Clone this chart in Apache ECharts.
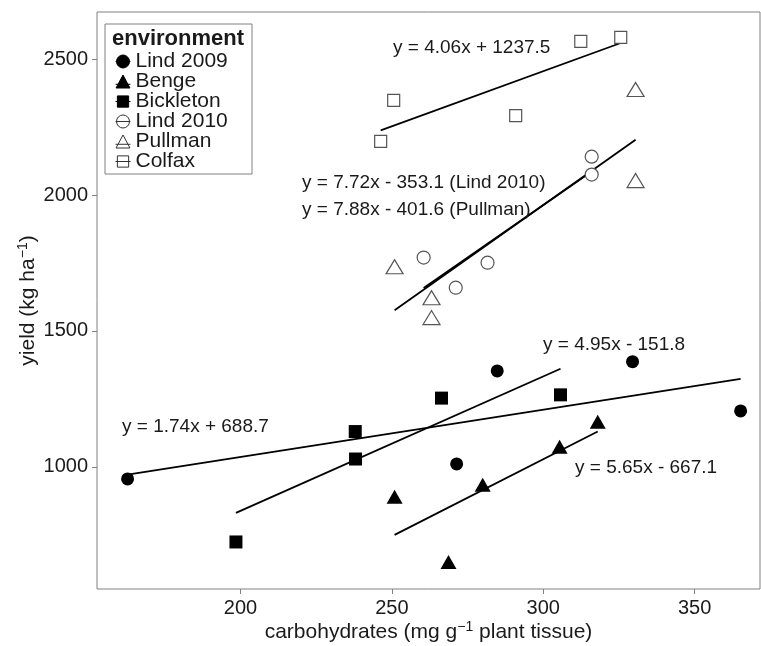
<!DOCTYPE html>
<html>
<head>
<meta charset="utf-8">
<script src="https://cdn.jsdelivr.net/npm/echarts@6/dist/echarts.min.js"></script>
<style>
  html, body { margin: 0; padding: 0; background: #fff; }
  #chart { width: 761px; height: 646px; }
</style>
</head>
<body>
<div id="chart"></div>
<script>
// --- data ---
var xTicks = [200, 250, 300, 350];
var yTicks = [1000, 1500, 2000, 2500];

var envNames = ['Lind 2009', 'Benge', 'Bickleton', 'Lind 2010', 'Pullman', 'Colfax'];

var lind2009X = [162.7, 271.4, 284.8, 329.5, 365.2];
var lind2009Y = [956, 1011, 1353, 1387, 1206];
var bengeX = [250.9, 268.7, 280.0, 305.4, 318.0];
var bengeY = [890, 650, 934, 1074, 1166];
var bickletonX = [198.5, 237.9, 238.0, 266.4, 305.7];
var bickletonY = [724, 1130, 1029, 1253, 1265];
var lind2010X = [316.0, 316.0, 260.5, 281.6, 271.1];
var lind2010Y = [2141, 2075, 1770, 1751, 1659];
var pullmanX = [330.5, 330.5, 250.9, 263.1, 263.1];
var pullmanY = [2388, 2053, 1736, 1622, 1549];
var colfaxX = [312.4, 325.6, 250.6, 290.9, 246.3];
var colfaxY = [2565, 2580, 2348, 2292, 2197];

// fitted lines, start and end as drawn
var lind2009Fit = [[162.7, 972], [365.2, 1324]];
var bickletonFit = [[198.5, 831], [305.7, 1361]];
var bengeFit = [[250.9, 750], [318.0, 1130]];
var colfaxFit = [[246.3, 2238], [325.6, 2559]];
var lind2010Fit = [[260.5, 1658], [316.0, 2086]];
var pullmanFit = [[250.9, 1576], [330.5, 2203]];

var equations = [
  { text: 'y = 4.06x + 1237.5', x: 393, y: 48 },
  { text: 'y = 7.72x - 353.1 (Lind 2010)', x: 302, y: 183 },
  { text: 'y = 7.88x - 401.6 (Pullman)', x: 302, y: 210 },
  { text: 'y = 1.74x + 688.7', x: 122, y: 427 },
  { text: 'y = 4.95x - 151.8', x: 543, y: 345 },
  { text: 'y = 5.65x - 667.1', x: 575, y: 468 }
];

function pairs(xs, ys) {
  return xs.map(function(x, i) { return [x, ys[i]]; });
}

var ink = '#1a1a1a';
var frame = '#808080';
var hollow = '#555555';
var font = 'Liberation Sans, Arial, Helvetica, sans-serif';

var filled = { color: '#000', opacity: 1 };
var open = { color: '#fff', borderColor: hollow, borderWidth: 1.2, opacity: 1 };

function scatter(name, data, symbol, size, style) {
  return {
    name: name,
    type: 'scatter',
    data: data,
    symbol: symbol,
    symbolSize: size,
    itemStyle: style,
    z: 3
  };
}

function fit(data) {
  return {
    type: 'line',
    data: data,
    showSymbol: false,
    symbol: 'none',
    lineStyle: { color: '#000', width: 1.8 },
    silent: true,
    z: 2
  };
}

// legend keys: symbol with the fit line through it
var keyCircle = 'path://M0,7L16,7M15,7A7,7,0,1,1,1,7A7,7,0,1,1,15,7Z';
var keyTri = 'path://M0,10L16,10M8,0L15.5,14L0.5,14Z';
var keyRect = 'path://M0,7L16,7M2,1L14,1L14,13L2,13Z';

var chart = echarts.init(document.getElementById('chart'), null, { renderer: 'canvas' });

function plain(v) { return String(v); }

var titleRich = {
  a: { fontSize: 21, color: ink, fontFamily: font, lineHeight: 24 },
  s: { fontSize: 14, color: ink, fontFamily: font, verticalAlign: 'top', lineHeight: 14 }
};

chart.setOption({
  animation: false,
  backgroundColor: '#fff',
  textStyle: { fontFamily: font },
  grid: {
    left: 97, right: 1, top: 12, bottom: 57,
    outerBoundsMode: 'none',
    containLabel: false,
    show: true, borderColor: frame, borderWidth: 1, backgroundColor: 'transparent'
  },
  legend: {
    orient: 'vertical',
    left: 115,
    top: 51,
    z: 100,
    padding: 0,
    itemWidth: 15,
    itemHeight: 13,
    itemGap: -1,
    textStyle: { color: ink, fontSize: 21, fontFamily: font },
    data: [
      { name: 'Lind 2009', icon: keyCircle, itemStyle: { color: '#000', borderColor: '#000', borderWidth: 1 } },
      { name: 'Benge', icon: keyTri, itemStyle: { color: '#000', borderColor: '#000', borderWidth: 1 } },
      { name: 'Bickleton', icon: keyRect, itemStyle: { color: '#000', borderColor: '#000', borderWidth: 1 } },
      { name: 'Lind 2010', icon: keyCircle, itemStyle: { color: '#fff', borderColor: '#333', borderWidth: 1 } },
      { name: 'Pullman', icon: keyTri, itemStyle: { color: '#fff', borderColor: '#333', borderWidth: 1 } },
      { name: 'Colfax', icon: keyRect, itemStyle: { color: '#fff', borderColor: '#333', borderWidth: 1 } }
    ]
  },
  graphic: [
    {
      type: 'rect',
      shape: { x: 105, y: 24, width: 147, height: 150 },
      style: { fill: '#fff', stroke: frame, lineWidth: 1 },
      z: 10
    },
    {
      type: 'text',
      x: 112, y: 39,
      style: { text: 'environment', font: 'bold 22px ' + font, fill: ink, verticalAlign: 'middle' },
      z: 11
    }
  ].concat(equations.map(function(e) {
    return {
      type: 'text',
      x: e.x, y: e.y,
      style: { text: e.text, font: '19px ' + font, fill: ink, verticalAlign: 'middle' },
      z: 11
    };
  })),
  xAxis: {
    type: 'value',
    min: 152.6,
    max: 371.6,
    name: '{a|carbohydrates (mg g}{s|−1}{a| plant tissue)}',
    nameLocation: 'middle',
    nameGap: 31,
    nameMoveOverlap: false,
    nameTextStyle: { rich: titleRich },
    splitLine: { show: false },
    axisLine: { show: false },
    axisTick: { show: true, length: 5, lineStyle: { color: frame }, customValues: xTicks },
    axisLabel: { color: ink, fontSize: 20, margin: 9, customValues: xTicks, formatter: plain }
  },
  yAxis: {
    type: 'value',
    min: 551,
    max: 2673,
    name: '{a|yield (kg ha}{s|−1}{a|)}',
    nameLocation: 'middle',
    nameGap: 57,
    nameMoveOverlap: false,
    nameTextStyle: { rich: titleRich },
    splitLine: { show: false },
    axisLine: { show: false },
    axisTick: { show: true, length: 5, lineStyle: { color: frame }, customValues: yTicks },
    axisLabel: { color: ink, fontSize: 20, margin: 9, customValues: yTicks, formatter: plain }
  },
  series: [
    scatter('Lind 2009', pairs(lind2009X, lind2009Y), 'circle', 13, filled),
    scatter('Benge', pairs(bengeX, bengeY), 'triangle', [16, 14], filled),
    scatter('Bickleton', pairs(bickletonX, bickletonY), 'rect', 13, filled),
    scatter('Lind 2010', pairs(lind2010X, lind2010Y), 'circle', 13, open),
    scatter('Pullman', pairs(pullmanX, pullmanY), 'triangle', [17, 14], open),
    scatter('Colfax', pairs(colfaxX, colfaxY), 'rect', 12, open),
    fit(lind2009Fit),
    fit(bickletonFit),
    fit(bengeFit),
    fit(colfaxFit),
    fit(lind2010Fit),
    fit(pullmanFit)
  ]
});

window.addEventListener('resize', function() { chart.resize(); });
</script>
</body>
</html>
